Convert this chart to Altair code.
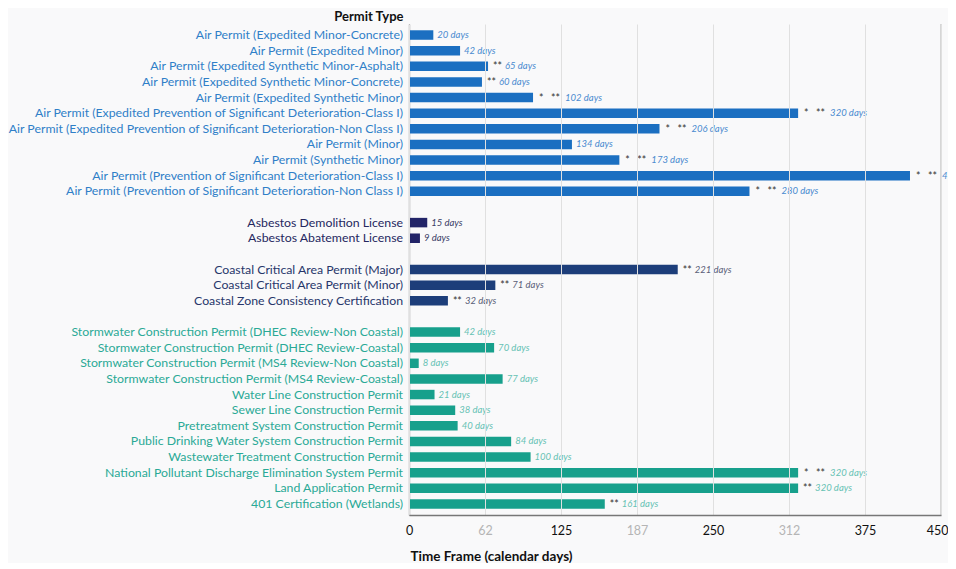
import altair as alt
import pandas as pd

# ---------------- data ----------------
air_labels = [
    "Air Permit (Expedited Minor-Concrete)",
    "Air Permit (Expedited Minor)",
    "Air Permit (Expedited Synthetic Minor-Asphalt)",
    "Air Permit (Expedited Synthetic Minor-Concrete)",
    "Air Permit (Expedited Synthetic Minor)",
    "Air Permit (Expedited Prevention of Significant Deterioration-Class I)",
    "Air Permit (Expedited Prevention of Significant Deterioration-Non Class I)",
    "Air Permit (Minor)",
    "Air Permit (Synthetic Minor)",
    "Air Permit (Prevention of Significant Deterioration-Class I)",
    "Air Permit (Prevention of Significant Deterioration-Non Class I)",
]
air_days = [20, 42, 65, 60, 102, 320, 206, 134, 173, 412, 280]
air_marks = ["", "", "**", "**", "* **", "* **", "* **", "", "* **", "* **", "* **"]

asb_labels = ["Asbestos Demolition License", "Asbestos Abatement License"]
asb_days = [15, 9]
asb_marks = ["", ""]

coast_labels = [
    "Coastal Critical Area Permit (Major)",
    "Coastal Critical Area Permit (Minor)",
    "Coastal Zone Consistency Certification",
]
coast_days = [221, 71, 32]
coast_marks = ["**", "**", "**"]

water_labels = [
    "Stormwater Construction Permit (DHEC Review-Non Coastal)",
    "Stormwater Construction Permit (DHEC Review-Coastal)",
    "Stormwater Construction Permit (MS4 Review-Non Coastal)",
    "Stormwater Construction Permit (MS4 Review-Coastal)",
    "Water Line Construction Permit",
    "Sewer Line Construction Permit",
    "Pretreatment System Construction Permit",
    "Public Drinking Water System Construction Permit",
    "Wastewater Treatment Construction Permit",
    "National Pollutant Discharge Elimination System Permit",
    "Land Application Permit",
    "401 Certification (Wetlands)",
]
water_days = [42, 70, 8, 77, 21, 38, 40, 84, 100, 320, 320, 161]
water_marks = ["", "", "", "", "", "", "", "", "", "* **", "**", "**"]

groups = ["Air", "Asbestos", "Coastal", "Water"]
bar_colors = ["#1b6fc1", "#222468", "#1d3e7a", "#17a08c"]
label_colors = ["#2f7fc8", "#25275f", "#27366a", "#2aa996"]
days_colors = ["#4a8bd0", "#3a3d66", "#5a6078", "#66c2b4"]

tick_values = [0, 62.5, 125, 187.5, 250, 312.5, 375, 437.5]
tick_labels = ["0", "62", "125", "187", "250", "312", "375", "450"]
faint_ticks = [62.5, 187.5, 312.5]

rows = []
for grp, labels, days, marks in [
    ("Air", air_labels, air_days, air_marks),
    ("Asbestos", asb_labels, asb_days, asb_marks),
    ("Coastal", coast_labels, coast_days, coast_marks),
    ("Water", water_labels, water_days, water_marks),
]:
    for l, d, m in zip(labels, days, marks):
        rows.append({"permit": l, "days": d, "marks": m, "group": grp,
                     "daytext": f"{d} days"})
df = pd.DataFrame(rows)

y_domain = air_labels + [" "] + asb_labels + ["  "] + coast_labels + ["   "] + water_labels

FONT = "Lato"

label_expr = "{}[indexof({}, datum.value)]".format(
    "[" + ",".join("'" + t + "'" for t in tick_labels) + "]",
    "[" + ",".join(str(v) for v in tick_values) + "]",
)
faint_test = " || ".join(f"datum.value == {v}" for v in faint_ticks)
last_test = f"datum.value == {tick_values[-1]}"

y_enc = alt.Y(
    "permit:N",
    scale=alt.Scale(domain=y_domain, paddingInner=0.39, paddingOuter=0.4),
    axis=alt.Axis(
        labels=False, ticks=False, domain=True, domainColor="#444", domainWidth=1.2,
        grid=False, title="Permit Type", titleAngle=0, titleAlign="right",
        titleX=-6, titleY=-8, titleBaseline="middle", titleFontSize=13,
        titleFontWeight="bold", titleColor="#111", titleFont=FONT,
    ),
)

x_enc = alt.X(
    "days:Q",
    scale=alt.Scale(domain=[0, tick_values[-1]], nice=False, zero=True),
    axis=alt.Axis(
        values=tick_values, labelExpr=label_expr,
        labelColor=alt.condition(faint_test, alt.value("#b5b5b5"), alt.value("#111")),
        labelAlign=alt.condition(last_test, alt.value("right"), alt.value("center")),
        labelOffset=alt.condition(last_test, alt.value(7), alt.value(0)),
        labelFontSize=12.5, labelFont=FONT, labelPadding=9, ticks=False,
        domain=True, domainColor="#777", domainWidth=1.5,
        grid=True, gridColor="#e0e0e0", gridWidth=1, zindex=1,
        title="Time Frame (calendar days)", titleAnchor="start", titleAlign="left",
        titleX=1, titleY=41, titleBaseline="middle", titleFontSize=13.5,
        titleFontWeight="bold", titleColor="#111", titleFont=FONT,
    ),
)

base = alt.Chart(df)

bars = base.mark_bar(size=9.5).encode(
    x=x_enc,
    y=y_enc,
    color=alt.Color("group:N", scale=alt.Scale(domain=groups, range=bar_colors), legend=None),
)

frame_df = pd.DataFrame({"end": [tick_values[-1]]})
right_line = alt.Chart(frame_df).mark_rule(color="#c4c4c4", strokeWidth=1.3).encode(
    x=alt.X("end:Q"), y=alt.value(0), y2=alt.value(491))

row_labels = base.mark_text(align="right", baseline="middle", dx=-6, font=FONT, fontSize=12.3).encode(
    x=alt.value(0),
    y=y_enc,
    text="permit:N",
    color=alt.Color("group:N", scale=alt.Scale(domain=groups, range=label_colors), legend=None),
)

days_style = dict(align="left", baseline="middle", font=FONT, fontSize=9.5, fontStyle="italic")
days_color = alt.Color("group:N", scale=alt.Scale(domain=groups, range=days_colors), legend=None)

days_plain = base.transform_filter("datum.marks == ''").mark_text(dx=4, **days_style).encode(
    x=x_enc, y=y_enc, text="daytext:N", color=days_color)
days_short = base.transform_filter("datum.marks == '**'").mark_text(dx=17, **days_style).encode(
    x=x_enc, y=y_enc, text="daytext:N", color=days_color)
days_long = base.transform_filter("datum.marks == '* **'").mark_text(dx=32, **days_style).encode(
    x=x_enc, y=y_enc, text="daytext:N", color=days_color)

star_style = dict(align="left", baseline="middle", font=FONT, fontSize=10.5, color="#333", dy=1)
star_single = base.transform_filter("datum.marks == '* **'").mark_text(dx=6, text="*", **star_style).encode(
    x=x_enc, y=y_enc)
star_double_short = base.transform_filter("datum.marks == '**'").mark_text(dx=5, text="**", **star_style).encode(
    x=x_enc, y=y_enc)
star_double_long = base.transform_filter("datum.marks == '* **'").mark_text(dx=18, text="**", **star_style).encode(
    x=x_enc, y=y_enc)

chart = alt.layer(
    bars, right_line, row_labels, days_plain, days_short, days_long,
    star_single, star_double_short, star_double_long,
).resolve_scale(color="independent").properties(
    width=532, height=491,
    autosize=alt.AutoSizeParams(type="none"),
    padding={"left": 401, "top": 16, "right": 7, "bottom": 48},
    background="#f9f9fa",
).configure_view(stroke=None)

chart.save("out.html", embed_options={"renderer": "svg", "actions": False})
